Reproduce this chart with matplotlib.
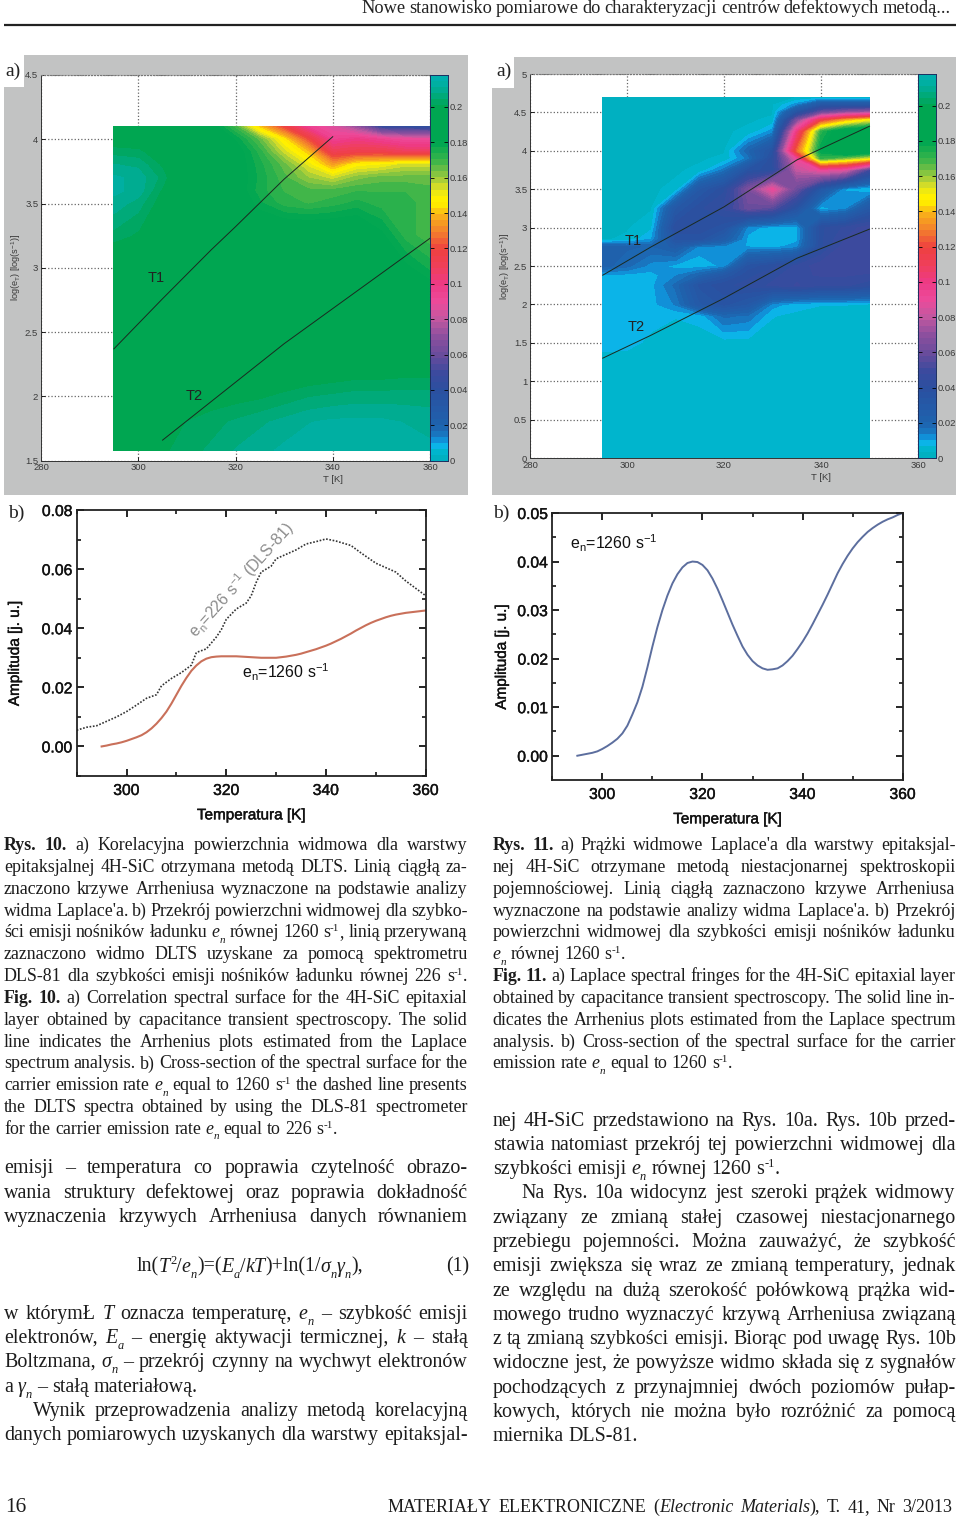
import re
import numpy as np
import matplotlib
matplotlib.use("Agg")
import matplotlib.pyplot as plt
from matplotlib.colors import LinearSegmentedColormap, BoundaryNorm
from matplotlib.font_manager import FontProperties
from matplotlib.patches import Rectangle
from matplotlib.patheffects import withStroke

W, H = 960, 1519
SANS = "Liberation Sans"
SERIF = "Liberation Serif"

plt.rcParams["font.family"] = [SANS, "DejaVu Sans"]
plt.rcParams["mathtext.fontset"] = "custom"
plt.rcParams["mathtext.rm"] = SANS
plt.rcParams["mathtext.it"] = SANS
plt.rcParams["mathtext.default"] = "regular"

# --- colour scale of the two surfaces
scale_values = [0, .005, .009, .012, .016, .02, .04, .05, .06, .07, .08, .09, .10, .11, .12,
                .13, .14, .145, .15, .155, .16, .165, .17, .18, .20, .205, .21, .215, .218]
scale_colors = ["#00AEBC", "#00B5CC", "#0CB4EC", "#1190D8", "#1B70BA", "#1E63AE", "#2B4FA0",
                "#3D4A9E", "#6A4C9C", "#8B4F9E", "#C158A0", "#EC4A9A", "#EE3A86", "#EF3F5A",
                "#EE4040", "#F37F2D", "#F9B418", "#FFE800", "#FFF200", "#D9DE26", "#9ECB3C",
                "#6DBE45", "#39B54A", "#00A651", "#00A651", "#00A86B", "#00AC90", "#00B0A8",
                "#00AFAF"]
scale_top = 0.218

# --- Rys. 10a surface
dlts_T = [295, 300, 305, 310, 315, 320, 325, 330, 335, 340, 345, 350, 355, 360]
dlts_log = [1.58, 1.8, 2.0, 2.25, 2.5, 2.75, 3.0, 3.25, 3.5, 3.6, 3.7, 3.8, 3.9, 4.0, 4.1]
dlts_amp = [
    [.198, .199, .200, .203, .205, .208, .210, .212, .213, .214, .214, .214, .213, .212],
    [.198, .199, .200, .201, .203, .205, .207, .209, .211, .212, .212, .212, .211, .210],
    [.198, .198, .197, .197, .198, .199, .200, .202, .204, .205, .206, .206, .206, .206],
    [.197, .195, .193, .191, .191, .191, .192, .193, .194, .195, .196, .196, .197, .197],
    [.192, .190, .190, .190, .190, .190, .190, .190, .190, .190, .190, .190, .190, .190],
    [.190, .190, .190, .190, .190, .190, .190, .190, .190, .190, .190, .190, .190, .188],
    [.192, .191, .190, .190, .190, .190, .190, .190, .190, .190, .190, .190, .182, .176],
    [.203, .200, .193, .190, .190, .190, .190, .190, .190, .190, .190, .182, .172, .168],
    [.210, .206, .198, .190, .190, .188, .178, .172, .170, .172, .175, .172, .172, .168],
    [.212, .210, .200, .190, .190, .185, .175, .170, .168, .168, .170, .170, .170, .168],
    [.212, .210, .203, .190, .190, .185, .176, .168, .160, .155, .162, .165, .165, .165],
    [.208, .207, .200, .190, .190, .185, .175, .165, .152, .135, .148, .150, .155, .155],
    [.203, .202, .197, .190, .190, .185, .172, .155, .140, .112, .115, .115, .110, .110],
    [.197, .197, .192, .190, .190, .180, .165, .145, .120, .095, .100, .095, .090, .090],
    [.195, .195, .190, .190, .185, .168, .140, .118, .095, .085, .070, .045, .042, .040],
]
dlts_t1_T = [295, 305, 315, 320, 330, 340]
dlts_t1_log = [2.37, 2.76, 3.14, 3.32, 3.69, 4.02]
dlts_t2_T = [305, 330, 360]
dlts_t2_log = [1.66, 2.41, 3.23]

# --- Rys. 11a surface
laplace_T = [295, 300, 305, 310, 315, 320, 325, 330, 335, 340, 345, 350]
laplace_log = [0, 1, 1.3, 1.5, 1.85, 2, 2.25, 2.38, 2.5, 2.75, 2.85, 3, 3.25, 3.5, 3.75, 3.9, 4, 4.25, 4.4, 4.5, 4.6, 4.7]
laplace_amp = [
    [.0045, .0045, .0045, .0045, .0045, .0045, .0045, .0045, .0045, .0045, .0045, .0045],
    [.0045, .0045, .0045, .0045, .0045, .0045, .0045, .0045, .0045, .0045, .0045, .0045],
    [.0060, .0055, .0050, .0045, .0045, .0045, .0045, .0045, .0045, .0045, .0045, .0045],
    [.008, .008, .006, .005, .005, .005, .005, .005, .005, .005, .005, .005],
    [.008, .008, .008, .007, .008, .018, .016, .007, .006, .005, .005, .005],
    [.007, .008, .009, .014, .030, .035, .030, .012, .008, .007, .007, .006],
    [.008, .008, .009, .018, .035, .040, .042, .045, .048, .045, .045, .042],
    [.009, .009, .009, .013, .020, .030, .040, .043, .047, .048, .048, .047],
    [.022, .018, .012, .009, .008, .011, .035, .040, .045, .050, .050, .050],
    [.022, .021, .020, .025, .012, .012, .010, .009, .012, .040, .050, .050],
    [.003, .004, .010, .035, .035, .025, .009, .008, .009, .040, .048, .050],
    [.003, .003, .006, .040, .040, .035, .012, .008, .009, .040, .045, .050],
    [.003, .003, .003, .030, .040, .045, .060, .055, .035, .008, .012, .030],
    [.003, .003, .003, .004, .030, .040, .065, .090, .060, .030, .010, .006],
    [.003, .003, .003, .003, .004, .015, .035, .040, .080, .090, .085, .050],
    [.003, .003, .003, .003, .003, .004, .015, .040, .090, .170, .160, .150],
    [.003, .003, .003, .003, .003, .003, .020, .035, .125, .180, .200, .190],
    [.003, .003, .003, .003, .003, .003, .004, .012, .100, .172, .190, .195],
    [.003, .003, .003, .003, .003, .003, .003, .004, .065, .115, .135, .148],
    [.003, .003, .003, .003, .003, .003, .003, .003, .035, .060, .070, .075],
    [.003, .003, .003, .003, .003, .003, .003, .003, .012, .030, .030, .030],
    [.003, .003, .003, .003, .003, .003, .003, .003, .003, .003, .003, .003],
]
laplace_t1_T = [295, 305, 320, 335, 350]
laplace_t1_log = [2.38, 2.75, 3.27, 3.88, 4.32]
laplace_t2_T = [295, 305, 320, 335, 350]
laplace_t2_log = [1.30, 1.60, 2.08, 2.60, 2.98]

# --- Rys. 10b curves
red_T = list(range(295, 361))
red_amp = [0, .0003, .0007, .0010, .0014, .0019, .0025, .0031, .0038, .0048, .0061, .0077, .0096, .0118,
           .0145, .0175, .0205, .0232, .0256, .0274, .0288, .0297, .0302, .0304, .0305, .0305, .0305,
           .0305, .0304, .0303, .0302, .0301, .0300, .0300, .0300, .0300, .0302, .0304, .0307, .0310,
           .0314, .0319, .0324, .0329, .0335, .0341, .0348, .0356, .0364, .0373, .0382, .0392, .0401,
           .0410, .0418, .0425, .0431, .0437, .0442, .0446, .0449, .0452, .0454, .0456, .0458, .0460]
dls_T = [290, 292, 294, 296, 298, 300, 302, 304, 306, 307, 309, 311, 313, 314, 316, 318, 319, 320,
         322, 324, 325, 326, 327, 329, 330, 332, 334, 336, 338, 340, 342, 345, 347, 350, 354, 356,
         358, 360]
dls_amp = [.0055, .0065, .0070, .0085, .0100, .0118, .0140, .0163, .0175, .0205, .0230, .0250, .0275,
           .0318, .0330, .0370, .0395, .0430, .0465, .0485, .0510, .0555, .0590, .0610, .0635, .0650,
           .0665, .0685, .0693, .0702, .0695, .0680, .0655, .0620, .0590, .0560, .0535, .0510]

# --- Rys. 11b curve
blue_T = list(range(295, 361))
blue_amp = [0, .0002, .0004, .0006, .0009, .0014, .0020, .0027, .0035, .0046, .0062, .0085, .0110, .0142,
            .0182, .0225, .0265, .0300, .0330, .0355, .0374, .0388, .0397, .0400, .0399, .0393, .0382,
            .0365, .0344, .0320, .0295, .0270, .0247, .0225, .0208, .0195, .0186, .0180, .0177, .0178,
            .0180, .0186, .0195, .0206, .0220, .0235, .0252, .0271, .0291, .0311, .0332, .0354, .0376,
            .0395, .0412, .0427, .0440, .0451, .0461, .0469, .0476, .0482, .0487, .0491, .0496, .0500]

# --- page text
caption_left = [
    "<b>Rys. 10.</b> a) Korelacyjna powierzchnia widmowa dla warstwy",
    "epitaksjalnej 4H-SiC otrzymana metodą DLTS. Linią ciągłą za-",
    "znaczono krzywe Arrheniusa wyznaczone na podstawie analizy",
    "widma Laplace'a. b) Przekrój powierzchni widmowej dla szybko-",
    "ści emisji nośników ładunku <i>e</i><sub>n</sub> równej 1260 s<sup>-1</sup>, linią przerywaną",
    "zaznaczono widmo DLTS uzyskane za pomocą spektrometru",
    "DLS-81 dla szybkości emisji nośników ładunku równej 226 s<sup>-1</sup>.",
    "<b>Fig. 10.</b> a) Correlation spectral surface for the 4H-SiC epitaxial",
    "layer obtained by capacitance transient spectroscopy. The solid",
    "line indicates the Arrhenius plots estimated from the Laplace",
    "spectrum analysis. b) Cross-section of the spectral surface for the",
    "carrier emission rate <i>e</i><sub>n</sub> equal to 1260 s<sup>-1</sup> the dashed line presents",
    "the DLTS spectra obtained by using the DLS-81 spectrometer",
    "for the carrier emission rate <i>e</i><sub>n</sub> equal to 226 s<sup>-1</sup>.",
]
caption_right = [
    "<b>Rys. 11.</b> a) Prążki widmowe Laplace'a dla warstwy epitaksjal-",
    "nej 4H-SiC otrzymane metodą niestacjonarnej spektroskopii",
    "pojemnościowej. Linią ciągłą zaznaczono krzywe Arrheniusa",
    "wyznaczone na podstawie analizy widma Laplace'a. b) Przekrój",
    "powierzchni widmowej dla szybkości emisji nośników ładunku",
    "<i>e</i><sub>n</sub> równej 1260 s<sup>-1</sup>.",
    "<b>Fig. 11.</b> a) Laplace spectral fringes for the 4H-SiC epitaxial layer",
    "obtained by capacitance transient spectroscopy. The solid line in-",
    "dicates the Arrhenius plots estimated from the Laplace spectrum",
    "analysis. b) Cross-section of the spectral surface for the carrier",
    "emission rate <i>e</i><sub>n</sub> equal to 1260 s<sup>-1</sup>.",
]
body_left_top = [
    "emisji – temperatura co poprawia czytelność obrazo-",
    "wania struktury defektowej oraz poprawia dokładność",
    "wyznaczenia krzywych Arrheniusa danych równaniem",
]
body_left_bottom = [
    "w którymŁ <i>T</i> oznacza temperaturę, <i>e</i><sub>n</sub> – szybkość emisji",
    "elektronów, <i>E</i><sub>a</sub> – energię aktywacji termicznej, <i>k</i> – stałą",
    "Boltzmana, <i>σ</i><sub>n</sub> – przekrój czynny na wychwyt elektronów",
    "a <i>γ</i><sub>n</sub> – stałą materiałową.",
    "Wynik przeprowadzenia analizy metodą korelacyjną",
    "danych pomiarowych uzyskanych dla warstwy epitaksjal-",
]
body_right = [
    "nej 4H-SiC przedstawiono na Rys. 10a. Rys. 10b przed-",
    "stawia natomiast przekrój tej powierzchni widmowej dla",
    "szybkości emisji <i>e</i><sub>n</sub> równej 1260 s<sup>-1</sup>.",
    "Na Rys. 10a widocynz jest szeroki prążek widmowy",
    "związany ze zmianą stałej czasowej niestacjonarnego",
    "przebiegu pojemności. Można zauważyć, że szybkość",
    "emisji zwiększa się wraz ze zmianą temperatury, jednak",
    "ze względu na dużą szerokość połówkową prążka wid-",
    "mowego trudno wyznaczyć krzywą Arrheniusa związaną",
    "z tą zmianą szybkości emisji. Biorąc pod uwagę Rys. 10b",
    "widoczne jest, że powyższe widmo składa się z sygnałów",
    "pochodzących z przynajmniej dwóch poziomów pułap-",
    "kowych, których nie można było rozróżnić za pomocą",
    "miernika DLS-81.",
]
formula = "ln(<i>T</i><sup>2</sup>/<i>e</i><sub>n</sub>)=(<i>E</i><sub>a</sub>/<i>kT</i>)+ln(1/<i>σ</i><sub>n</sub><i>γ</i><sub>n</sub>),"
header = "Nowe stanowisko pomiarowe do charakteryzacji centrów defektowych metodą..."
footer = "MATERIAŁY ELEKTRONICZNE (<i>Electronic Materials</i>), T. 41, Nr 3/2013"

CAPTION_SIZE = 12.9
BODY_SIZE = 14.4

fig = plt.figure(figsize=(W / 100, H / 100), dpi=100, facecolor="white")
page = fig.add_axes([0, 0, 1, 1], zorder=0)
page.set_xlim(0, W)
page.set_ylim(H, 0)
page.axis("off")
renderer = fig.canvas.get_renderer()


def px_axes(x0, y0, x1, y1, **kw):
    return fig.add_axes([x0 / W, 1 - y1 / H, (x1 - x0) / W, (y1 - y0) / H], **kw)


def parse_words(line):
    # splits the small markup into words, each word a list of (text, style)
    words, cur, style = [], [], "r"
    for tok in re.split(r"(</?(?:b|i|sub|sup)>)", line):
        if tok in ("<b>", "<i>", "<sub>", "<sup>"):
            style = tok[1:-1]
        elif tok.startswith("</"):
            style = "r"
        else:
            parts = tok.split(" ")
            for k, part in enumerate(parts):
                if k > 0:
                    if cur:
                        words.append(cur)
                    cur = []
                if part:
                    cur.append((part, style))
    if cur:
        words.append(cur)
    return words


def run_props(style, size):
    if style == "b":
        return FontProperties(family=SERIF, weight="bold", size=size)
    if style == "i":
        return FontProperties(family=SERIF, style="italic", size=size)
    if style == "sub":
        return FontProperties(family=SERIF, style="italic", size=size * 0.62)
    if style == "sup":
        return FontProperties(family=SERIF, size=size * 0.62)
    return FontProperties(family=SERIF, size=size)


def run_width(text, style, size):
    w, _, _ = renderer.get_text_width_height_descent(text, run_props(style, size), False)
    return w


def word_width(word, size):
    return sum(run_width(t, s, size) for t, s in word)


def draw_line(line, x0, x1, y, size, justify=True, indent=0, color="#1c1c1c"):
    words = parse_words(line)
    widths = [word_width(w, size) for w in words]
    space = size * 100 / 72 * 0.25
    start = x0 + indent
    if justify and len(words) > 1:
        space = (x1 - start - sum(widths)) / (len(words) - 1)
    x = start
    for word, width in zip(words, widths):
        cx = x
        for text, style in word:
            shift = {"sub": size * 0.42, "sup": -size * 0.5}.get(style, 0)
            page.text(cx, y + shift, text, fontproperties=run_props(style, size), color=color,
                      ha="left", va="baseline")
            cx += run_width(text, style, size)
        x += width + space


def draw_block(lines, x0, x1, baselines, size, last_free=(), indents=None):
    indents = indents or {}
    for i, (line, y) in enumerate(zip(lines, baselines)):
        draw_line(line, x0, x1, y, size, justify=i not in last_free, indent=indents.get(i, 0))


def surface_panel(panel, notch, axbox, cbox, xlim, ylim, yticks, T, logs, amp, t1, t2, t1_pos, t2_pos):
    page.add_patch(Rectangle((panel[0], panel[1]), panel[2] - panel[0], panel[3] - panel[1],
                             facecolor="#C2C3C3", edgecolor="none"))
    page.add_patch(Rectangle((panel[0], panel[1]), notch[0], notch[1], facecolor="white", edgecolor="none"))
    ax = px_axes(*axbox, zorder=2)
    ax.set_facecolor("white")
    ax.contourf(T, logs, np.array(amp), levels=levels, cmap=surface_cmap, norm=norm, zorder=2)
    ax.plot(t1[0], t1[1], color="#1a2a20", lw=0.7, zorder=3)
    ax.plot(t2[0], t2[1], color="#1a2a20", lw=0.7, zorder=3)
    ax.text(t1_pos[0], t1_pos[1], "T1", fontsize=10.5, color="#222222", ha="center", va="center", zorder=4)
    ax.text(t2_pos[0], t2_pos[1], "T2", fontsize=10.5, color="#222222", ha="center", va="center", zorder=4)
    ax.set_xlim(*xlim)
    ax.set_ylim(*ylim)
    ax.set_xticks([280, 300, 320, 340, 360])
    ax.set_yticks(yticks)
    ax.set_yticklabels([f"{v:g}" for v in yticks])
    ax.set_axisbelow(True)
    ax.grid(True, linestyle=":", color="#666666", lw=0.9)
    ax.tick_params(labelsize=6.8, labelcolor="#3a3a3a", length=3, width=0.6, direction="in", pad=2)
    ax.set_xlabel("T [K]", fontsize=6.8, color="#3a3a3a", x=0.75, labelpad=2)
    ax.set_ylabel(r"log(e$_T$) [log(s$^{-1}$)]", fontsize=6.6, color="#3a3a3a")
    ax.yaxis.set_label_coords(-0.047, 0.5)
    for side in ("top", "right"):
        ax.spines[side].set_linestyle(":")
        ax.spines[side].set_color("#777777")
    for side in ("left", "bottom"):
        ax.spines[side].set_color("#333333")
        ax.spines[side].set_linewidth(0.7)

    cax = px_axes(*cbox, zorder=3)
    cax.pcolormesh([0, 1], levels, centers.reshape(-1, 1), cmap=surface_cmap, norm=norm)
    cax.set_xticks([])
    cax.set_ylim(0, scale_top)
    cax.yaxis.tick_right()
    cbar_ticks = [0, .02, .04, .06, .08, .1, .12, .14, .16, .18, .2]
    cax.set_yticks(cbar_ticks)
    cax.set_yticklabels([f"{v:g}" for v in cbar_ticks])
    cax.tick_params(axis="y", labelsize=6.8, labelcolor="#3a3a3a", length=3, width=0.6, direction="in",
                    left=True, right=True, pad=1.5)
    for s in cax.spines.values():
        s.set_color("#1c3060")
        s.set_linewidth(0.7)


def amp_axes(box, ylim, yticks, minor_y, ylabel_x):
    ax = px_axes(*box, zorder=2)
    ax.set_xlim(290, 360)
    ax.set_ylim(*ylim)
    ax.set_xticks([300, 320, 340, 360])
    ax.set_xticks([290, 310, 330, 350], minor=True)
    ax.set_yticks(yticks)
    ax.set_yticklabels([f"{v:.2f}" for v in yticks])
    ax.set_yticks(minor_y, minor=True)
    ax.tick_params(which="major", direction="in", length=5, width=1.2, top=True, right=True,
                   labelsize=11.3, labelcolor="#111111")
    ax.tick_params(axis="x", which="major", pad=5)
    ax.tick_params(axis="y", which="major", pad=3)
    ax.tick_params(which="minor", direction="in", length=3, width=1.1, top=True, right=True)
    for s in ax.spines.values():
        s.set_linewidth(1.3)
        s.set_color("#222222")
    ax.set_xlabel("Temperatura [K]", fontsize=11, color="#111111", labelpad=7.5)
    ax.set_ylabel("Amplituda [j. u.]", fontsize=11, color="#111111")
    ax.yaxis.set_label_coords(ylabel_x, 0.46)
    stroke = [withStroke(linewidth=0.3, foreground="#111111")]
    for t in ax.get_xticklabels() + ax.get_yticklabels() + [ax.xaxis.label, ax.yaxis.label]:
        t.set_path_effects(stroke)
    return ax


levels = np.linspace(0, scale_top, 65)
centers = 0.5 * (levels[:-1] + levels[1:])
base_cmap = LinearSegmentedColormap.from_list(
    "surface", [(v / scale_top, c) for v, c in zip(scale_values, scale_colors)])
surface_cmap = matplotlib.colors.ListedColormap(base_cmap(centers / scale_top))
norm = BoundaryNorm(levels, 64)

# page furniture
page.plot([4, 956], [25, 25], color="#222222", lw=1.6, solid_capstyle="butt")
draw_line(header, 361, 951, 13, 13.2, color="#222222")
draw_line("16", 5, 40, 1512, 15.5, justify=False)
draw_line(footer, 388, 952, 1512, 13)

surface_panel((4, 55, 468, 495), (20, 32), (41, 75, 430, 460.7), (430, 75, 448, 460.7),
              (280, 360), (1.5, 4.5), [1.5, 2, 2.5, 3, 3.5, 4, 4.5], dlts_T, dlts_log, dlts_amp,
              (dlts_t1_T, dlts_t1_log), (dlts_t2_T, dlts_t2_log), (303.6, 2.92), (311.5, 2.0))
surface_panel((492, 57, 956, 495), (22, 31), (530, 74, 918, 458), (918, 74, 936, 458),
              (280, 360), (0, 5), [0, .5, 1, 1.5, 2, 2.5, 3, 3.5, 4, 4.5, 5], laplace_T, laplace_log, laplace_amp,
              (laplace_t1_T, laplace_t1_log), (laplace_t2_T, laplace_t2_log), (301.3, 2.83), (301.8, 1.71))

for label, x, y in [("a)", 5, 76), ("a)", 496, 76), ("b)", 8, 518), ("b)", 493, 518)]:
    page.text(x, y, label, family=SERIF, fontsize=14, color="#222222", ha="left", va="baseline")

ax_l = amp_axes((76.7, 510, 425.7, 776), (-0.01, 0.08), [0, .02, .04, .06, .08],
                [-.01, .01, .03, .05, .07], -0.157)
ax_l.plot(dls_T, dls_amp, color="#333333", lw=1.2, ls=(0, (1, 1)))
ax_l.plot(red_T, red_amp, color="#C9705A", lw=1.5)
ax_l.text(314, 0.0365, r"e$_n$=226 s$^{-1}$ (DLS-81)", color="#8c8c8c", fontsize=11.5,
          rotation=48, rotation_mode="anchor", ha="left", va="baseline")
ax_l.text(323.2, 0.0232, r"e$_n$=1260 s$^{-1}$", color="#111111", fontsize=11.5, ha="left", va="baseline")

ax_r = amp_axes((552.3, 513, 902.7, 780), (-0.005, 0.05), [0, .01, .02, .03, .04, .05],
                [.005, .015, .025, .035, .045], -0.124)
ax_r.plot(blue_T, blue_amp, color="#5C6E9E", lw=1.4)
ax_r.text(293.6, 0.0425, r"e$_n$=1260 s$^{-1}$", color="#111111", fontsize=11.5, ha="left", va="baseline")

# text columns
draw_block(caption_left, 4, 467.5, [850 + 21.85 * i for i in range(14)], CAPTION_SIZE, last_free=(13,))
draw_block(caption_right, 492.7, 955.7, [850 + 21.85 * i for i in range(11)], CAPTION_SIZE, last_free=(5, 10))
draw_block(body_left_top, 4, 467.5, [1173.3, 1197.7, 1222.3], BODY_SIZE)
draw_line(formula, 137, 365, 1271.7, BODY_SIZE, justify=False)
draw_line("(1)", 446, 468, 1271.7, BODY_SIZE, justify=False)
draw_block(body_left_bottom, 4, 467.5, [1319, 1343, 1367, 1392, 1416, 1440], BODY_SIZE, last_free=(3,), indents={4: 29})
right_y = [1125.7, 1150, 1174, 1198, 1222.7, 1246.7, 1271, 1295.7, 1320, 1344, 1368, 1392.7, 1416.7, 1441]
draw_block(body_right, 492.7, 955.7, right_y, BODY_SIZE, last_free=(2, 13), indents={3: 29})

fig.savefig("out.png", dpi=100)
